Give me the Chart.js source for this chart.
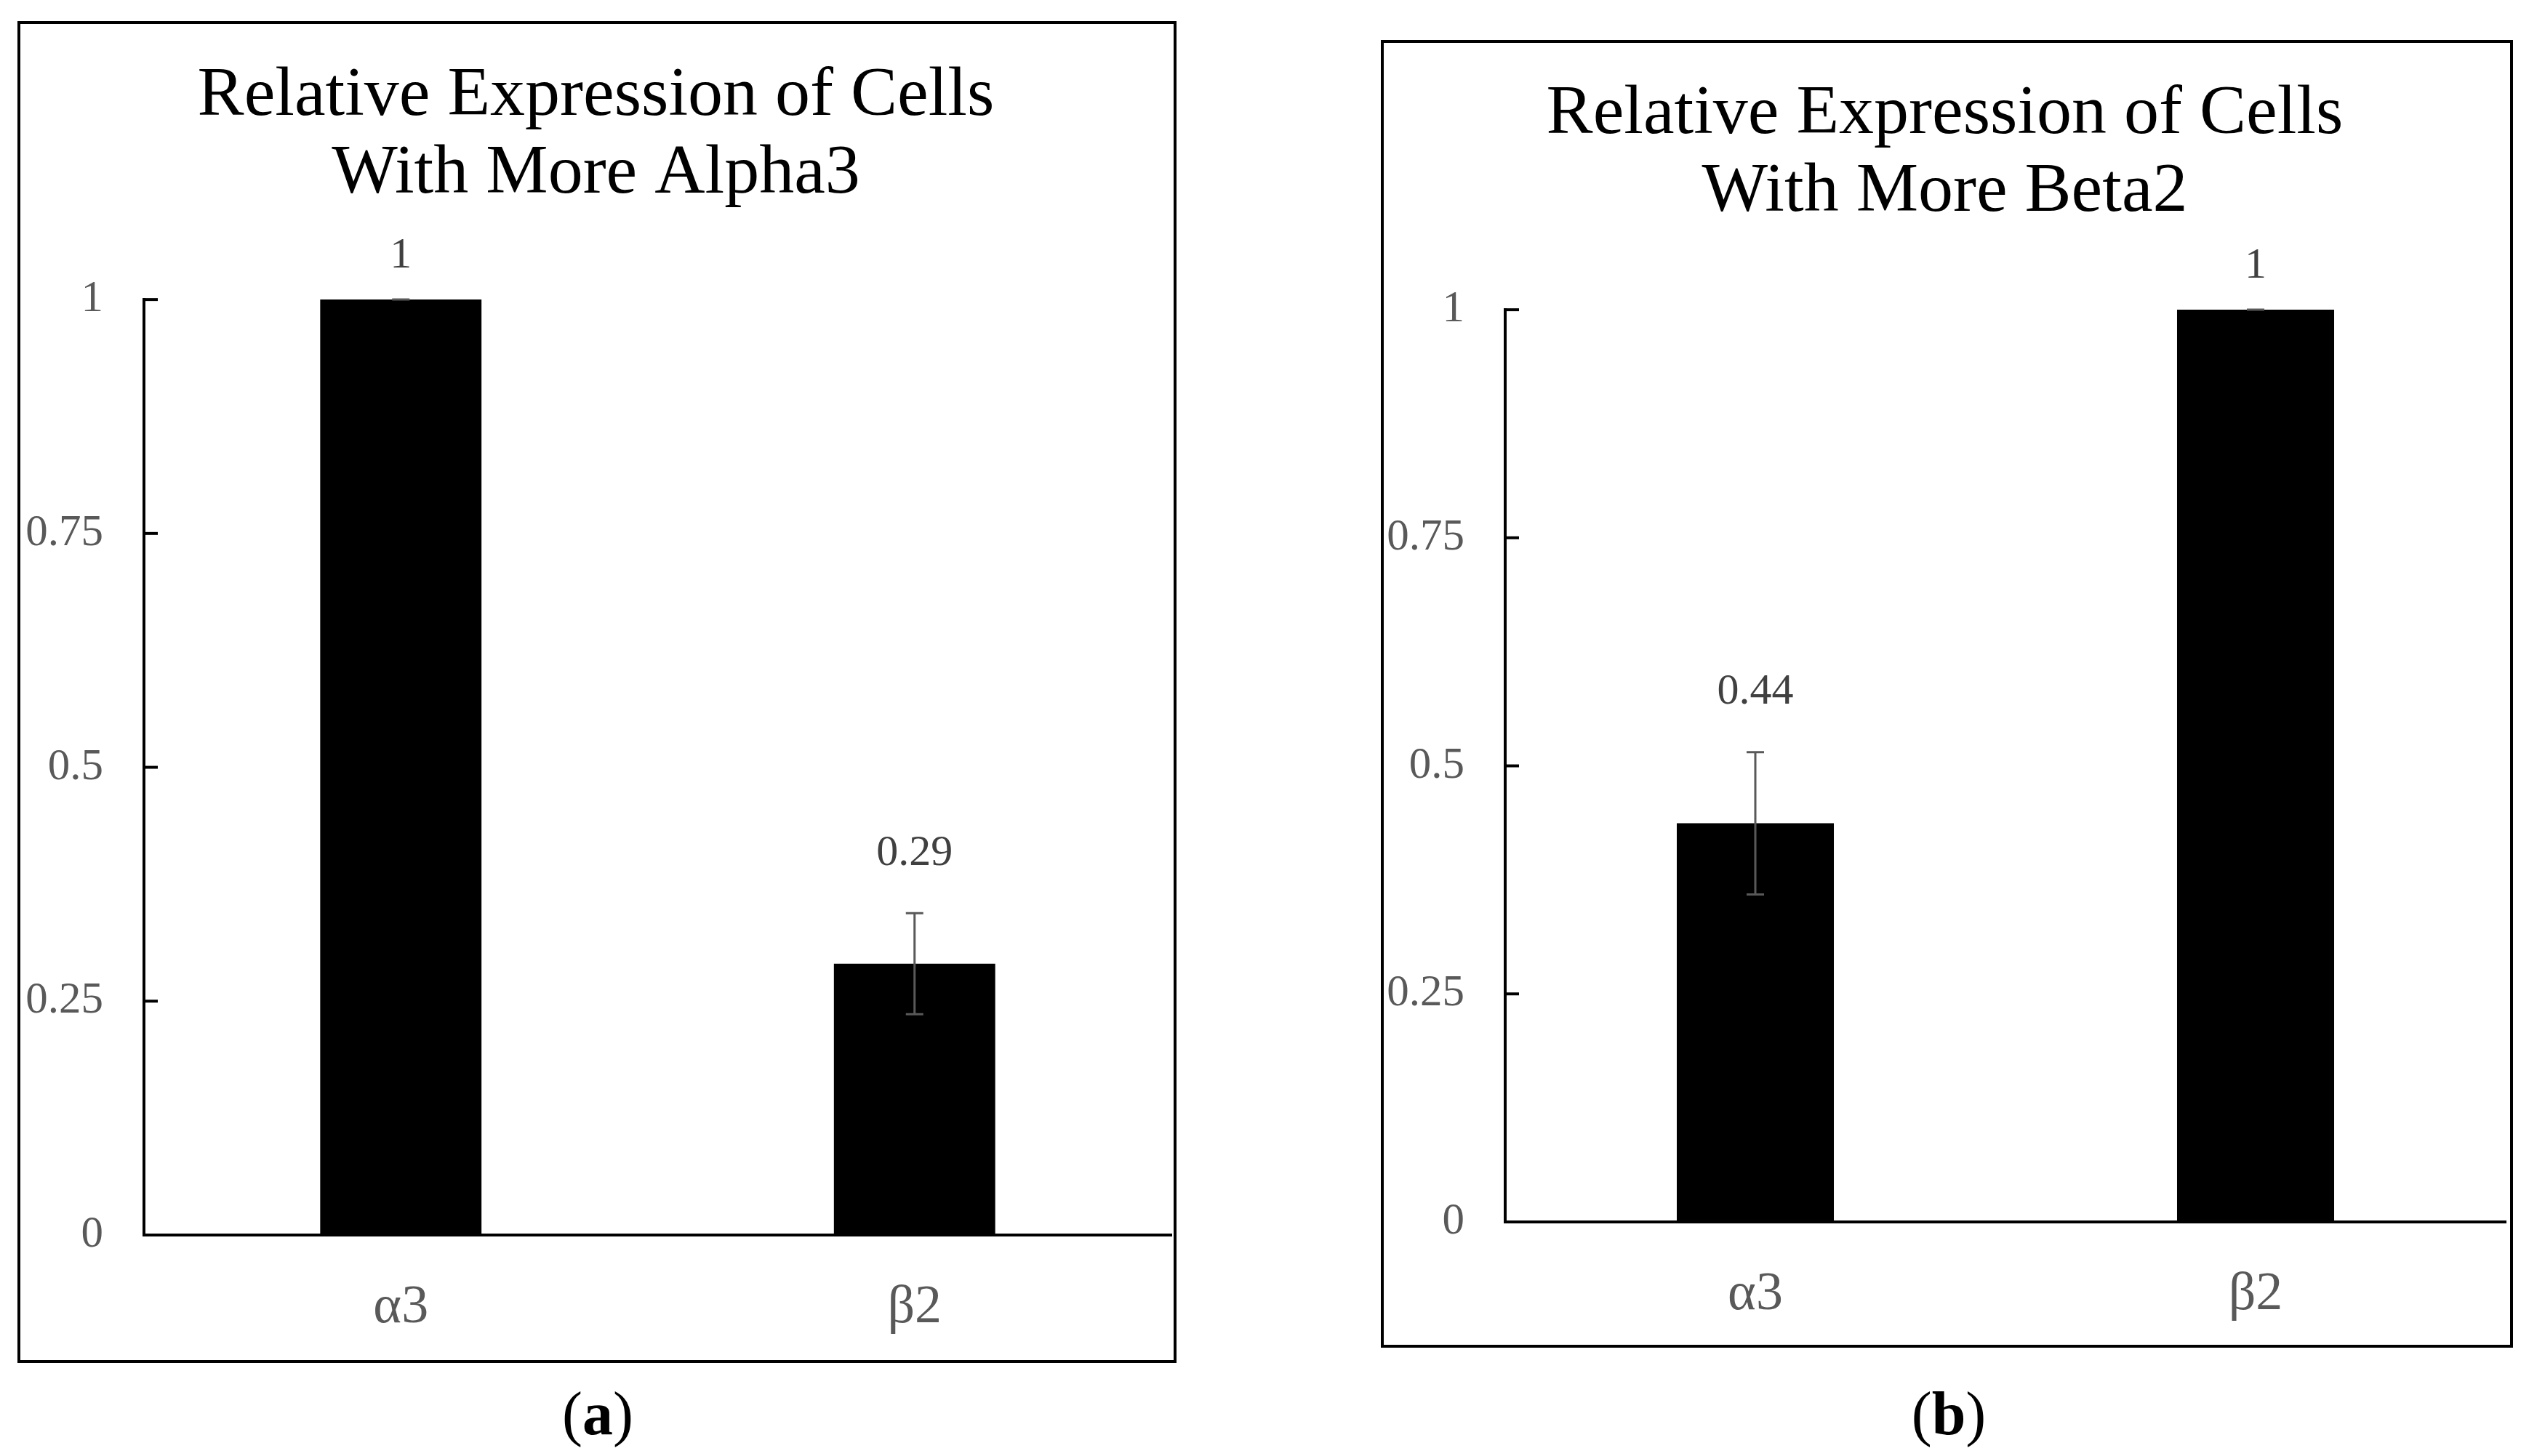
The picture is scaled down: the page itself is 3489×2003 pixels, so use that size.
<!DOCTYPE html>
<html>
<head>
<meta charset="utf-8">
<script src="https://cdn.jsdelivr.net/npm/chart.js@4.4.1/dist/chart.umd.min.js"></script>
<style>
    html, body { margin: 0; padding: 0; background: #fff; }
    body { width: 3489px; height: 2003px; position: relative; overflow: hidden; }
    .frame { position: absolute; box-sizing: border-box; border: 4px solid #000; background: #fff; }
    .frame canvas { display: block; }
    .caption { position: absolute; transform: translate(-50%, -50%); font-family: "Liberation Serif", serif; font-size: 84px; line-height: 1; color: #000; }
    .caption b { font-weight: bold; }
</style>
</head>
<body>

<div class="frame" id="frame_a" style="left:24px; top:29px; width:1594px; height:1846px;">
    <canvas id="chart_a" width="1586" height="1838"></canvas>
</div>
<div class="frame" id="frame_b" style="left:1899px; top:55px; width:1557px; height:1799px;">
    <canvas id="chart_b" width="1549" height="1791"></canvas>
</div>

<div class="caption" style="left:822px; top:1945px;">(<b>a</b>)</div>
<div class="caption" style="left:2680px; top:1945px;">(<b>b</b>)</div>

<script>
// ---------------------------------------------------------------------------- D A T A
const categories = ['α3', 'β2'];
const yTicks = [0, 0.25, 0.5, 0.75, 1];

// (a) cells with more alpha3
const titleA = ['Relative Expression of Cells', 'With More Alpha3'];
const valuesA = [1, 0.29];
const errorsA = [0, 0.054];

// (b) cells with more beta2
const titleB = ['Relative Expression of Cells', 'With More Beta2'];
const valuesB = [0.437, 1];
const errorsB = [0.078, 0];

// ---------------------------------------------------------------------------- P L U G I N S
const serif = '"Liberation Serif", "Times New Roman", serif';

// error bars + value labels above them
const errorBarPlugin = {
    id: 'errorBars',
    afterDatasetsDraw: (chart, args, opts) => {
        const ctx = chart.ctx;
        const yScale = chart.scales.y;
        const meta = chart.getDatasetMeta(0);
        const values = chart.data.datasets[0].data;
        const errors = opts.errors || [];
        ctx.save();
        meta.data.forEach((bar, i) => {
            const v = values[i];
            const e = errors[i] || 0;
            const yTop = yScale.getPixelForValue(v + e);
            const yBot = yScale.getPixelForValue(v - e);
            ctx.strokeStyle = '#595959';
            ctx.lineWidth = 3;
            ctx.beginPath();
            ctx.moveTo(bar.x, yTop);
            ctx.lineTo(bar.x, yBot);
            ctx.moveTo(bar.x - 12, yTop);
            ctx.lineTo(bar.x + 12, yTop);
            ctx.moveTo(bar.x - 12, yBot);
            ctx.lineTo(bar.x + 12, yBot);
            ctx.stroke();
            // label (sits a bit higher when there is a whisker)
            ctx.fillStyle = '#404040';
            ctx.font = '60px ' + serif;
            ctx.textAlign = 'center';
            ctx.textBaseline = 'middle';
            ctx.fillText(String(Number(v.toFixed(2))), bar.x, yTop - (e > 0 ? 82 : 60));
        });
        ctx.restore();
    }
};

// Excel style: small tick marks pointing inside the plot
const innerTicksPlugin = {
    id: 'innerTicks',
    afterDraw: (chart) => {
        const ctx = chart.ctx;
        const yScale = chart.scales.y;
        const x0 = chart.chartArea.left;
        ctx.save();
        ctx.strokeStyle = '#000';
        ctx.lineWidth = 4;
        yScale.ticks.forEach(t => {
            const y = yScale.getPixelForValue(t.value);
            ctx.beginPath();
            ctx.moveTo(x0 - 2, y);
            ctx.lineTo(x0 + 19, y);
            ctx.stroke();
        });
        ctx.restore();
    }
};

// ---------------------------------------------------------------------------- C H A R T
const makeChart = (id, title, values, errors, geo) => {
    const ctx = document.getElementById(id).getContext('2d');
    return new Chart(ctx, {
        type: 'bar',
        data: {
            labels: categories,
            datasets: [{
                data: values,
                backgroundColor: '#000',
                borderWidth: 0,
                barPercentage: 0.314,
                categoryPercentage: 1
            }]
        },
        plugins: [errorBarPlugin, innerTicksPlugin],
        options: {
            responsive: false,
            devicePixelRatio: 1,
            animation: false,
            layout: {
                padding: { left: 0, right: geo.right, top: 0, bottom: 0 }
            },
            scales: {
                x: {
                    grid: { display: false, drawTicks: false },
                    border: { display: true, color: '#000', width: 4 },
                    ticks: {
                        color: '#595959',
                        padding: 56,
                        font: { family: serif, size: 74 }
                    },
                    afterFit: (scale) => { scale.height = geo.xHeight; }
                },
                y: {
                    min: 0,
                    max: 1,
                    afterBuildTicks: (scale) => { scale.ticks = yTicks.map(v => ({ value: v })); },
                    grid: { display: false, drawTicks: false },
                    border: { display: true, color: '#000', width: 4 },
                    ticks: {
                        color: '#595959',
                        padding: 56,
                        font: { family: serif, size: 61 },
                        callback: (v) => String(v)
                    },
                    afterFit: (scale) => { scale.width = geo.yWidth; }
                }
            },
            plugins: {
                legend: { display: false },
                tooltip: { enabled: false },
                title: {
                    display: true,
                    text: title,
                    color: '#000',
                    font: { family: serif, size: 96, weight: 'normal', lineHeight: 1.11 },
                    padding: { top: geo.titleTop, bottom: geo.titleBottom }
                },
                errorBars: { errors: errors }
            }
        }
    });
};

makeChart('chart_a', titleA, valuesA, errorsA, { right: 3, xHeight: 172, yWidth: 170, titleTop: 47, titleBottom: 119 });
makeChart('chart_b', titleB, valuesB, errorsB, { right: 6, xHeight: 169, yWidth: 167, titleTop: 46, titleBottom: 108 });
</script>
</body>
</html>
